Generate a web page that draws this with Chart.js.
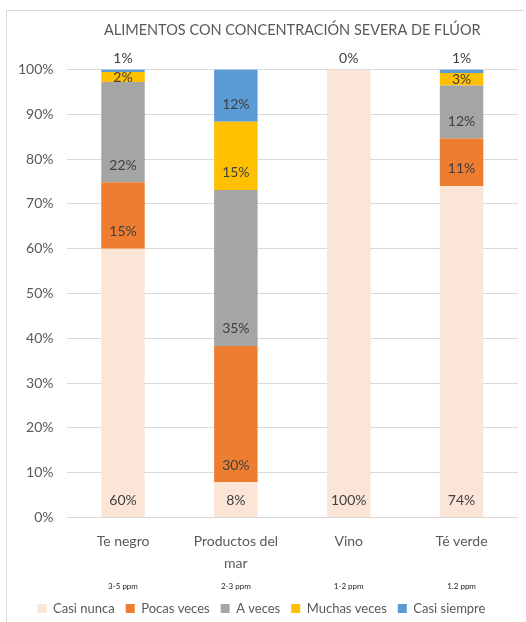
<!DOCTYPE html>
<html lang="es">

<head>
   <meta charset="UTF-8">
   <title>Alimentos con concentración severa de flúor</title>
   <style>
      body { margin: 0; background: #fff; }
      .frame {
         position: absolute; left: 0; top: 0; width: 526px; height: 622px;
      }
      .border {
         position: absolute; left: 6px; top: 10px; width: 517px; height: 620px;
         border-left: 1px solid #d9d9d9; border-top: 1px solid #d9d9d9;
      }
   </style>
</head>

<body>
   <div class="frame">
      <div class="border"></div>
      <canvas id="myChart" width="526" height="622"></canvas>
   </div>

   <script src="https://cdn.jsdelivr.net/npm/chart.js"></script>

   <script>
      const categorias = [['Te negro'], ['Productos del', 'mar'], ['Vino'], ['Té verde']];
      const ppm = ['3-5 ppm', '2-3 ppm', '1-2 ppm', '1.2 ppm'];

      const casiNunca = [60, 7.9, 100, 74];
      const pocasVeces = [14.8, 30.4, 0, 10.6];
      const aVeces = [22.4, 34.8, 0, 11.8];
      const muchasVeces = [2.2, 15.2, 0, 2.8];
      const casiSiempre = [0.6, 11.7, 0, 0.8];

      const yTicks = [0, 10, 20, 30, 40, 50, 60, 70, 80, 90, 100];

      const fuente = 'Lato';
      const gris = '#595959';

      // etiquetas de datos, estilo "base interior" de Excel
      const etiquetas = {
         id: 'etiquetas',
         afterDatasetsDraw(chart) {
            const ctx = chart.ctx;
            const top = chart.chartArea.top;
            const ultimo = chart.data.datasets.length - 1;
            ctx.save();
            ctx.font = '14px ' + fuente;
            ctx.fillStyle = '#404040';
            ctx.textAlign = 'center';
            ctx.textBaseline = 'middle';
            chart.data.datasets.forEach((ds, i) => {
               const meta = chart.getDatasetMeta(i);
               meta.data.forEach((el, j) => {
                  const v = ds.data[j];
                  if (v === 0 && i !== ultimo) return;
                  const h = el.base - el.y;
                  let y;
                  if (h >= 30) y = el.base - 17;
                  else if (h >= 7) y = (el.y + el.base) / 2;
                  else y = top - 11;
                  ctx.fillText(Math.round(v) + '%', el.x, y);
               });
            });
            ctx.restore();
         }
      };

      // rangos en ppm bajo cada categoría
      const rangos = {
         id: 'rangos',
         afterDraw(chart) {
            const ctx = chart.ctx;
            const x = chart.scales.x;
            ctx.save();
            ctx.font = '8px ' + fuente;
            ctx.fillStyle = '#222';
            ctx.textAlign = 'center';
            ctx.textBaseline = 'middle';
            ppm.forEach((t, j) => {
               ctx.fillText(t, x.getPixelForValue(j), chart.chartArea.bottom + 69);
            });
            ctx.restore();
         }
      };

      const ctx = document.getElementById('myChart');

      new Chart(ctx, {
         type: 'bar',
         data: {
            labels: categorias,
            datasets: [
               { label: 'Casi nunca', data: casiNunca, backgroundColor: '#FBE5D6' },
               { label: 'Pocas veces', data: pocasVeces, backgroundColor: '#ED7D31' },
               { label: 'A veces', data: aVeces, backgroundColor: '#A5A5A5' },
               { label: 'Muchas veces', data: muchasVeces, backgroundColor: '#FFC000' },
               { label: 'Casi siempre', data: casiSiempre, backgroundColor: '#5B9BD5' }
            ]
         },
         options: {
            responsive: false,
            animation: false,
            layout: { padding: { top: 14, right: 8, left: 5, bottom: -3 } },
            datasets: {
               bar: { barPercentage: 1, categoryPercentage: 0.385 }
            },
            scales: {
               x: {
                  stacked: true,
                  grid: { display: false, drawTicks: false },
                  border: { display: false },
                  ticks: {
                     color: gris,
                     padding: 13,
                     font: { family: fuente, size: 14, lineHeight: 1.55 },
                     maxRotation: 0
                  },
                  afterFit: (scale) => { scale.height += 4; }
               },
               y: {
                  stacked: true,
                  min: 0,
                  max: 100,
                  afterBuildTicks: (scale) => {
                     scale.ticks = yTicks.map((v) => ({ value: v }));
                  },
                  grid: { color: '#D9D9D9', drawTicks: false },
                  border: { display: false },
                  ticks: {
                     color: gris,
                     padding: 13,
                     font: { family: fuente, size: 14 },
                     callback: (v) => v + '%'
                  }
               }
            },
            plugins: {
               title: {
                  display: true,
                  text: 'ALIMENTOS CON CONCENTRACIÓN SEVERA DE FLÚOR',
                  color: gris,
                  fullSize: false,
                  font: { family: fuente, size: 14.5, weight: 'normal' },
                  padding: { top: 8, bottom: 30 }
               },
               legend: {
                  position: 'bottom',
                  labels: {
                     color: gris,
                     boxWidth: 9,
                     boxHeight: 9,
                     padding: 11,
                     font: { family: fuente, size: 13 }
                  }
               },
               tooltip: { enabled: false }
            }
         },
         plugins: [etiquetas, rangos]
      });
   </script>
</body>

</html>
